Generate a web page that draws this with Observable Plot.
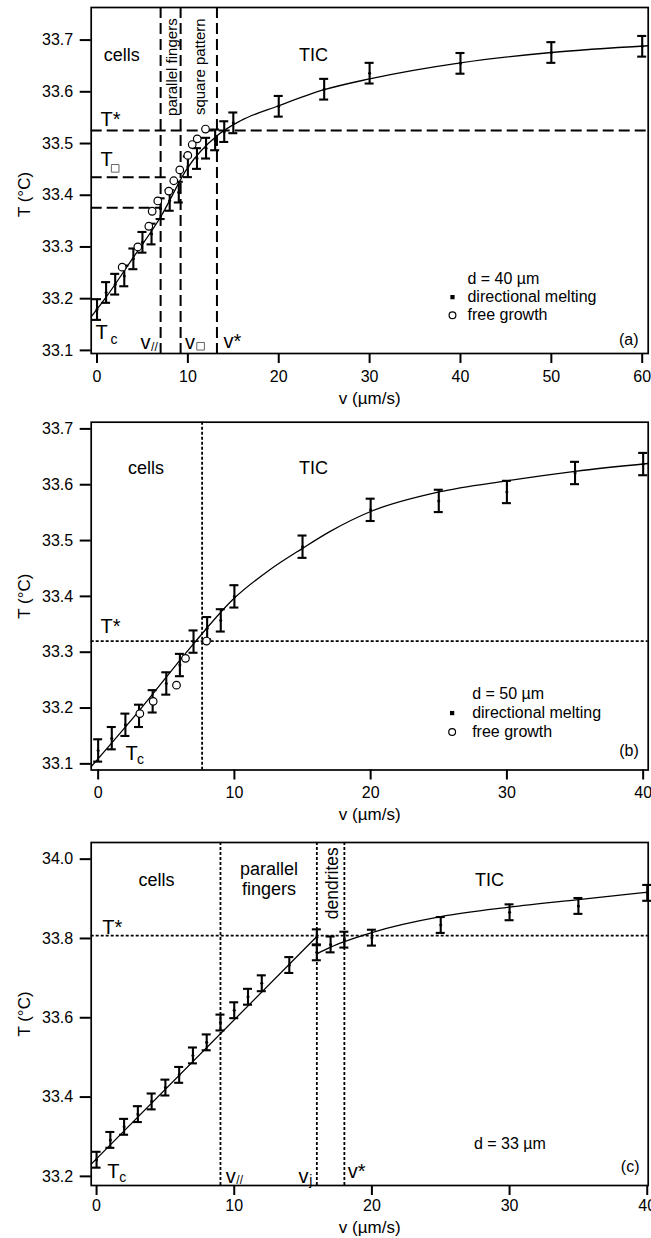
<!DOCTYPE html>
<html><head><meta charset="utf-8">
<script src="https://cdn.jsdelivr.net/npm/d3@7"></script>
<script src="https://cdn.jsdelivr.net/npm/@observablehq/plot@0.6"></script>
<style>body{margin:0;background:#fff} svg{display:block}</style>
</head><body><div id="chart"></div>
<script>
// ---------- Panel (a): d = 40 µm ----------
const vA = [0,1,2,3,4,5,6,7,8,9,10,11,12,13,14,15,20,25,30,40,50,60];
const TA = [33.179,33.212,33.228,33.244,33.277,33.309,33.325,33.374,33.39,33.406,33.455,33.471,33.491,33.507,33.523,33.54,33.572,33.605,33.636,33.655,33.676,33.688];
const vAfree = [2.77,4.49,5.7,6.07,6.69,7.9,8.45,9.11,9.99,10.48,11.03,11.94];
const TAfree = [33.261,33.3,33.34,33.369,33.389,33.408,33.428,33.449,33.477,33.498,33.509,33.528];
const vAfit = [-0.64,1,4,7,10,13.2,15.8,20,25,30,40,50,60.66];
const TAfit = [33.165,33.203,33.28,33.358,33.454,33.515,33.544,33.573,33.604,33.625,33.656,33.676,33.689];
const vAlines = [7, 9.2, 13.2];      // v//, v□, v*
const TAstar = 33.525, TAsquare = 33.435, TApar = 33.376;

// ---------- Panel (b): d = 50 µm ----------
const vB = [0,1,2,3,4,5,6,7,8,9,10,15,20,25,30,35,40];
const TB = [33.124,33.146,33.17,33.186,33.212,33.244,33.277,33.319,33.343,33.357,33.4,33.489,33.555,33.571,33.587,33.621,33.637];
const vBfree = [3.06,4.04,5.75,6.41,7.95];
const TBfree = [33.19,33.212,33.241,33.289,33.32];
const vBfit = [-0.51,3,7,10,12.5,15,17,20,25,30,35,40.37];
const TBfit = [33.095,33.195,33.315,33.397,33.446,33.486,33.516,33.552,33.587,33.607,33.624,33.638];
const vBline = 7.63, TBstar = 33.32;

// ---------- Panel (c): d = 33 µm ----------
const vC = [0,1,2,3,4,5,6,7,8,9,10,11,12,14,16,16,17,18,20,25,30,35,40];
const TC = [33.242,33.292,33.325,33.357,33.389,33.424,33.456,33.505,33.538,33.588,33.619,33.653,33.687,33.733,33.803,33.765,33.785,33.797,33.802,33.834,33.866,33.882,33.915];
const vCfit1 = [-0.39,16];
const TCfit1 = [33.231,33.805];
const vCfit2 = [16,17,18,20,25,30,35,40.07];
const TCfit2 = [33.761,33.778,33.792,33.815,33.855,33.879,33.898,33.917];
const vClines = [9.0, 16.0, 18.0];   // v//, vj, v*
const TCstar = 33.807;

const ERR = 0.02;
const FONT = "'Liberation Sans', Arial, Helvetica, sans-serif";
const rows = (v, T) => v.map((d, i) => ({v: d, T: T[i]}));

function errorMarks(v, T) {
  const r = v.map((d, i) => ({v: d, T: T[i], lo: T[i] - ERR, hi: T[i] + ERR}));
  return [
    Plot.ruleX(r, {x: "v", y1: "lo", y2: "hi", strokeWidth: 2.1}),
    Plot.ruleY(r, {y: "lo", x1: "v", x2: "v", insetLeft: -4.5, insetRight: -4.5, strokeWidth: 2.1}),
    Plot.ruleY(r, {y: "hi", x1: "v", x2: "v", insetLeft: -4.5, insetRight: -4.5, strokeWidth: 2.1}),
    Plot.dot(r, {x: "v", y: "T", r: 1.5, fill: "black"})
  ];
}
function lbl(v, T, text, o = {}) {
  return Plot.text([{v, T, text}], {x: "v", y: "T", text: "text", textAnchor: "middle", fontSize: 18, fill: "black", ...o});
}
function sq(v, T, o = {}) {
  return Plot.dot([{v, T}], {x: "v", y: "T", symbol: "square", r: 4.3, stroke: "#666", strokeWidth: 1, fill: "none", ...o});
}
function axes(xt, yt, pad, tdy, ydy) {
  return [
    Plot.axisX(xt, {tickSize: 10, tickPadding: pad, strokeWidth: 2, fontSize: 16, label: null}),
    Plot.axisY(yt, {tickSize: 11, tickPadding: 7, strokeWidth: 2, fontSize: 16, tickFormat: d3.format(".1f"), label: null}),
    Plot.text(["T (°C)"], {text: d => d, frameAnchor: "left", textAnchor: "middle", lineAnchor: "middle", rotate: -90, dx: -67, dy: ydy, fontSize: 17}),
    Plot.text(["v (µm/s)"], {text: d => d, frameAnchor: "bottom", textAnchor: "middle", lineAnchor: "middle", dy: tdy, fontSize: 17})
  ];
}
const base = (h, mt, mb, xd, yd) => ({
  width: 651, height: h, marginLeft: 90.7, marginRight: 3.3, marginTop: mt, marginBottom: mb,
  x: {domain: xd}, y: {domain: yd},
  style: {fontFamily: FONT, fontSize: "16px", background: "white", color: "black", overflow: "visible"}
});
const legendDots = (v, T1, T2) => [
  Plot.dot([{v, T: T1}], {x: "v", y: "T", symbol: "square", r: 2.4, fill: "black"}),
  Plot.dot([{v, T: T2}], {x: "v", y: "T", r: 3.4, stroke: "black", strokeWidth: 1.2, fill: "white"})
];

const chart = document.getElementById("chart");

// (a)
const dashA = {stroke: "black", strokeWidth: 2, strokeDasharray: "11,5"};
chart.append(Plot.plot({
  ...base(405, 7, 52, [-0.64, 60.66], [33.094, 33.763]),
  marks: [
    Plot.ruleX(vAlines, {x: d => d, ...dashA}),
    Plot.ruleY([TAstar], {y: d => d, ...dashA}),
    Plot.ruleY([{T: TAsquare, v: 8}], {y: "T", x1: -0.64, x2: "v", ...dashA}),
    Plot.ruleY([{T: TApar, v: 7}], {y: "T", x1: -0.64, x2: "v", ...dashA}),
    Plot.line(rows(vAfit, TAfit), {x: "v", y: "T", curve: "monotone-x", strokeWidth: 1.3}),
    ...errorMarks(vA, TA),
    Plot.dot(rows(vAfree, TAfree), {x: "v", y: "T", r: 3.8, stroke: "black", strokeWidth: 1.2, fill: "white"}),
    lbl(2.71, 33.670, "cells"),
    lbl(23.82, 33.670, "TIC"),
    lbl(8.28, 33.742, "parallel fingers", {rotate: -90, textAnchor: "end", fontSize: 15}),
    lbl(11.31, 33.742, "square pattern", {rotate: -90, textAnchor: "end", fontSize: 15}),
    lbl(0.39, 33.546, "T*", {textAnchor: "start", fontSize: 20}),
    lbl(0.39, 33.469, "T", {textAnchor: "start", fontSize: 20}),
    sq(2.0, 33.452),
    lbl(-0.165, 33.134, "T", {textAnchor: "start", fontSize: 20}),
    lbl(1.49, 33.121, "c", {textAnchor: "start", fontSize: 14}),
    lbl(4.79, 33.115, "v", {textAnchor: "start", fontSize: 20}),
    lbl(5.95, 33.106, "//", {textAnchor: "start", fontSize: 12}),
    lbl(9.68, 33.115, "v", {textAnchor: "start", fontSize: 20}),
    sq(11.4, 33.108),
    lbl(13.92, 33.117, "v*", {textAnchor: "start", fontSize: 20}),
    lbl(40.77, 33.238, "d = 40 µm", {textAnchor: "start", fontSize: 16}),
    lbl(40.77, 33.203, "directional melting", {textAnchor: "start", fontSize: 16}),
    lbl(40.77, 33.168, "free growth", {textAnchor: "start", fontSize: 16}),
    ...legendDots(39.12, 33.203, 33.168),
    lbl(59.59, 33.12, "(a)", {textAnchor: "end", fontSize: 16}),
    Plot.frame({strokeWidth: 1.7}),
    ...axes([0,10,20,30,40,50,60], [33.1,33.2,33.3,33.4,33.5,33.6,33.7], 7, 45, 14)
  ]
}));

// (b)
const dotB = {stroke: "black", strokeWidth: 1.8, strokeDasharray: "3,2"};
chart.append(Plot.plot({
  ...base(420, 16.7, 55.5, [-0.51, 40.37], [33.089, 33.712]),
  marks: [
    Plot.ruleX([vBline], {x: d => d, ...dotB}),
    Plot.ruleY([TBstar], {y: d => d, ...dotB}),
    Plot.line(rows(vBfit, TBfit), {x: "v", y: "T", curve: "monotone-x", strokeWidth: 1.3}),
    ...errorMarks(vB, TB),
    Plot.dot(rows(vBfree, TBfree), {x: "v", y: "T", r: 3.8, stroke: "black", strokeWidth: 1.2, fill: "white"}),
    lbl(3.52, 33.629, "cells"),
    lbl(15.80, 33.629, "TIC"),
    lbl(0.17, 33.345, "T*", {textAnchor: "start", fontSize: 20}),
    lbl(2.0, 33.119, "T", {textAnchor: "start", fontSize: 20}),
    lbl(2.85, 33.108, "c", {textAnchor: "start", fontSize: 14}),
    lbl(27.45, 33.226, "d = 50 µm", {textAnchor: "start", fontSize: 16}),
    lbl(27.45, 33.191, "directional melting", {textAnchor: "start", fontSize: 16}),
    lbl(27.45, 33.157, "free growth", {textAnchor: "start", fontSize: 16}),
    ...legendDots(25.98, 33.191, 33.157),
    lbl(39.68, 33.124, "(b)", {textAnchor: "end", fontSize: 16}),
    Plot.frame({strokeWidth: 1.7}),
    ...axes([0,10,20,30,40], [33.1,33.2,33.3,33.4,33.5,33.6,33.7], 7, 45, 0)
  ]
}));

// (c)
chart.append(Plot.plot({
  ...base(413, 17, 53, [-0.39, 40.07], [33.177, 34.042]),
  marks: [
    Plot.ruleX(vClines, {x: d => d, ...dotB}),
    Plot.ruleY([TCstar], {y: d => d, ...dotB}),
    Plot.line(rows(vCfit1, TCfit1), {x: "v", y: "T", strokeWidth: 1.3}),
    Plot.line(rows(vCfit2, TCfit2), {x: "v", y: "T", curve: "monotone-x", strokeWidth: 1.3}),
    ...errorMarks(vC, TC),
    lbl(4.36, 33.946, "cells"),
    lbl(12.53, 33.951, "parallel\nfingers", {lineHeight: 1.12}),
    lbl(17.15, 34.03, "dendrites", {rotate: -90, textAnchor: "end", fontSize: 17.5}),
    lbl(28.54, 33.946, "TIC"),
    lbl(0.41, 33.828, "T*", {textAnchor: "start", fontSize: 20}),
    lbl(0.77, 33.211, "T", {textAnchor: "start", fontSize: 20}),
    lbl(1.65, 33.197, "c", {textAnchor: "start", fontSize: 14}),
    lbl(9.38, 33.2, "v", {textAnchor: "start", fontSize: 20}),
    lbl(10.15, 33.19, "//", {textAnchor: "start", fontSize: 12}),
    lbl(14.67, 33.2, "v", {textAnchor: "start", fontSize: 20}),
    lbl(15.45, 33.19, "j", {textAnchor: "start", fontSize: 14}),
    lbl(18.24, 33.212, "v*", {textAnchor: "start", fontSize: 20}),
    lbl(27.41, 33.282, "d = 33 µm", {textAnchor: "start", fontSize: 16}),
    lbl(39.44, 33.223, "(c)", {textAnchor: "end", fontSize: 16}),
    Plot.frame({strokeWidth: 1.7}),
    ...axes([0,10,20,30,40], [33.2,33.4,33.6,33.8,34.0], 4, 42, 0)
  ]
}));
</script></body></html>
